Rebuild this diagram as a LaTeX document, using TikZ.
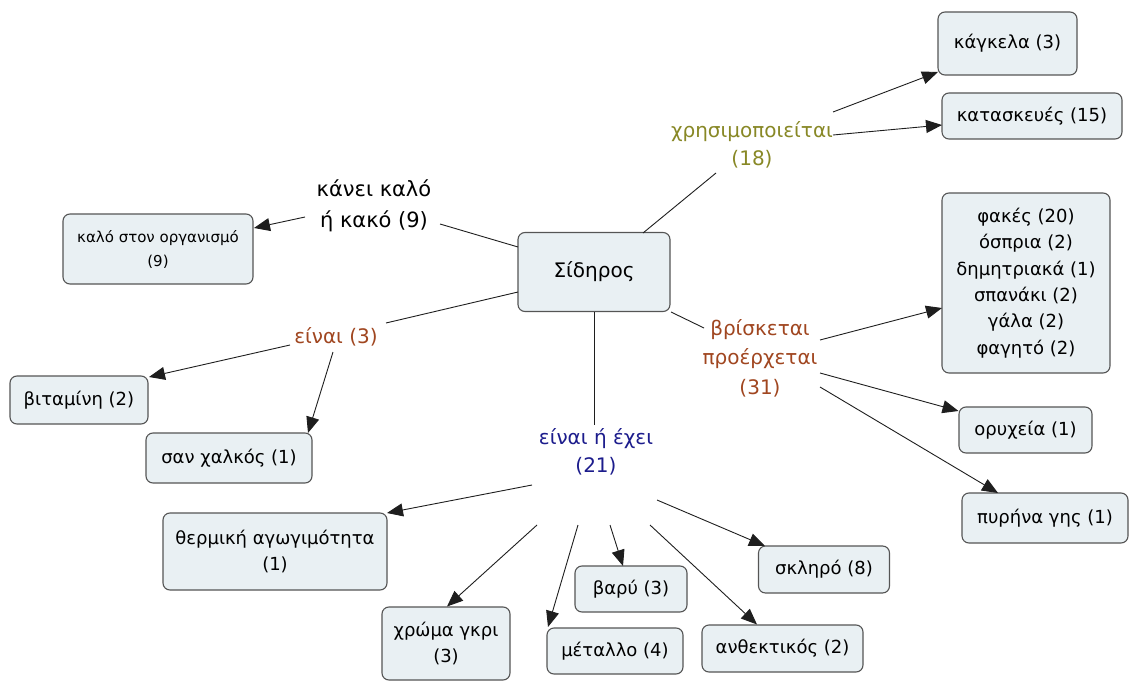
\documentclass[tikz,border=0pt]{standalone}
\usepackage{fontspec}
\setmainfont{DejaVu Sans}
\usetikzlibrary{arrows.meta}
\definecolor{boxfill}{RGB}{233,240,243}
\definecolor{boxdraw}{RGB}{85,85,85}
\definecolor{olivelbl}{RGB}{136,136,38}
\definecolor{brownlbl}{RGB}{160,70,32}
\definecolor{bluelbl}{RGB}{28,28,140}
\definecolor{linecol}{RGB}{30,30,30}
\tikzset{
  concept/.style={draw=boxdraw, line width=1.1pt, fill=boxfill, rounded corners=7pt,
    align=center, inner sep=2pt, font=\fontsize{18}{26.5}\selectfont},
  lbl/.style={align=center, inner sep=0pt, font=\fontsize{20}{29.5}\selectfont},
  link/.style={draw=linecol, line width=0.9pt},
  arr/.style={link, -{Triangle[length=16pt,width=13pt]}}
}
\begin{document}
\begin{tikzpicture}[x=1pt,y=-1pt]
\useasboundingbox (0,0) rectangle (1130,682);
% concepts
\node[concept, minimum width=152pt, minimum height=79pt, font=\fontsize{20}{24}\selectfont] (sid) at (594,272) {Σίδηρος};
\node[concept, minimum width=139pt, minimum height=63pt] (kagk) at (1007.5,43.5) {κάγκελα (3)};
\node[concept, minimum width=180pt, minimum height=46pt] (kata) at (1032,116) {κατασκευές (15)};
\node[concept, minimum width=168pt, minimum height=180pt, font=\fontsize{18}{26.3}\selectfont] (food) at (1026,283) {φακές (20)\\όσπρια (2)\\δημητριακά (1)\\σπανάκι (2)\\γάλα (2)\\φαγητό (2)};
\node[concept, minimum width=133pt, minimum height=46pt] (oryx) at (1025.5,430) {ορυχεία (1)};
\node[concept, minimum width=166pt, minimum height=50pt] (pyr) at (1045,518) {πυρήνα γης (1)};
\node[concept, minimum width=131pt, minimum height=47pt] (skl) at (824,569.5) {σκληρό (8)};
\node[concept, minimum width=161pt, minimum height=47pt] (anth) at (782.5,648.5) {ανθεκτικός (2)};
\node[concept, minimum width=112pt, minimum height=46pt] (bary) at (631,589) {βαρύ (3)};
\node[concept, minimum width=136pt, minimum height=46pt] (met) at (615,651) {μέταλλο (4)};
\node[concept, minimum width=128pt, minimum height=73pt] (xrom) at (446,643.5) {χρώμα γκρι\\(3)};
\node[concept, minimum width=224pt, minimum height=77pt] (therm) at (275,551.5) {θερμική αγωγιμότητα\\(1)};
\node[concept, minimum width=166pt, minimum height=50pt] (chalk) at (229,458) {σαν χαλκός (1)};
\node[concept, minimum width=138pt, minimum height=48pt] (vit) at (79,400) {βιταμίνη (2)};
\node[concept, minimum width=190pt, minimum height=70pt, font=\fontsize{15}{24}\selectfont] (kalo) at (158,249) {καλό στον οργανισμό\\(9)};
% linking phrases
\node[lbl, font=\fontsize{21}{31}\selectfont] (lk) at (374,206) {κάνει καλό\\ή κακό (9)};
\node[lbl, text=olivelbl, font=\fontsize{20}{28}\selectfont] (lx) at (752,145) {χρησιμοποιείται\\(18)};
\node[lbl, text=brownlbl] (lb) at (760,358) {βρίσκεται\\προέρχεται\\(31)};
\node[lbl, text=brownlbl] (le3) at (336,337) {είναι (3)};
\node[lbl, text=bluelbl, font=\fontsize{20}{28}\selectfont] (le) at (596,452) {είναι ή έχει\\(21)};
% connectors
\draw[link] ([shift={(-76,-25)}]sid.center) -- ([shift={(66,18)}]lk.center);
\draw[arr] ([shift={(-69,11)}]lk.center) -- ([shift={(96,-21)}]kalo.center);
\draw[link] ([shift={(49,-39)}]sid.center) -- ([shift={(-36,28)}]lx.center);
\draw[arr] ([shift={(81,-33)}]lx.center) -- ([shift={(-69.5,28.5)}]kagk.center);
\draw[arr] ([shift={(81,-10)}]lx.center) -- ([shift={(-90,9)}]kata.center);
\draw[link] ([shift={(77,40)}]sid.center) -- ([shift={(-56,-30)}]lb.center);
\draw[arr] ([shift={(60,-18)}]lb.center) -- ([shift={(-84,25)}]food.center);
\draw[arr] ([shift={(60,15)}]lb.center) -- ([shift={(-67,-19)}]oryx.center);
\draw[arr] ([shift={(60,29)}]lb.center) -- ([shift={(-47,-25)}]pyr.center);
\draw[link] ([shift={(-76,20)}]sid.center) -- ([shift={(50,-14)}]le3.center);
\draw[arr] ([shift={(-46,8)}]le3.center) -- ([shift={(70,-23)}]vit.center);
\draw[arr] ([shift={(-3,15)}]le3.center) -- ([shift={(79,-25)}]chalk.center);
\draw[link] (sid.south) -- ([shift={(-2,-27)}]le.center);
\draw[arr] ([shift={(-64,33)}]le.center) -- ([shift={(112,-38.5)}]therm.center);
\draw[arr] ([shift={(-59,73)}]le.center) -- ([shift={(1,-37)}]xrom.center);
\draw[arr] ([shift={(-18,73)}]le.center) -- ([shift={(-67,-24)}]met.center);
\draw[arr] ([shift={(14,73)}]le.center) -- ([shift={(-8,-23)}]bary.center);
\draw[arr] ([shift={(54,73)}]le.center) -- ([shift={(-25.5,-24)}]anth.center);
\draw[arr] ([shift={(61,48)}]le.center) -- ([shift={(-59,-23.5)}]skl.center);
\end{tikzpicture}
\end{document}
